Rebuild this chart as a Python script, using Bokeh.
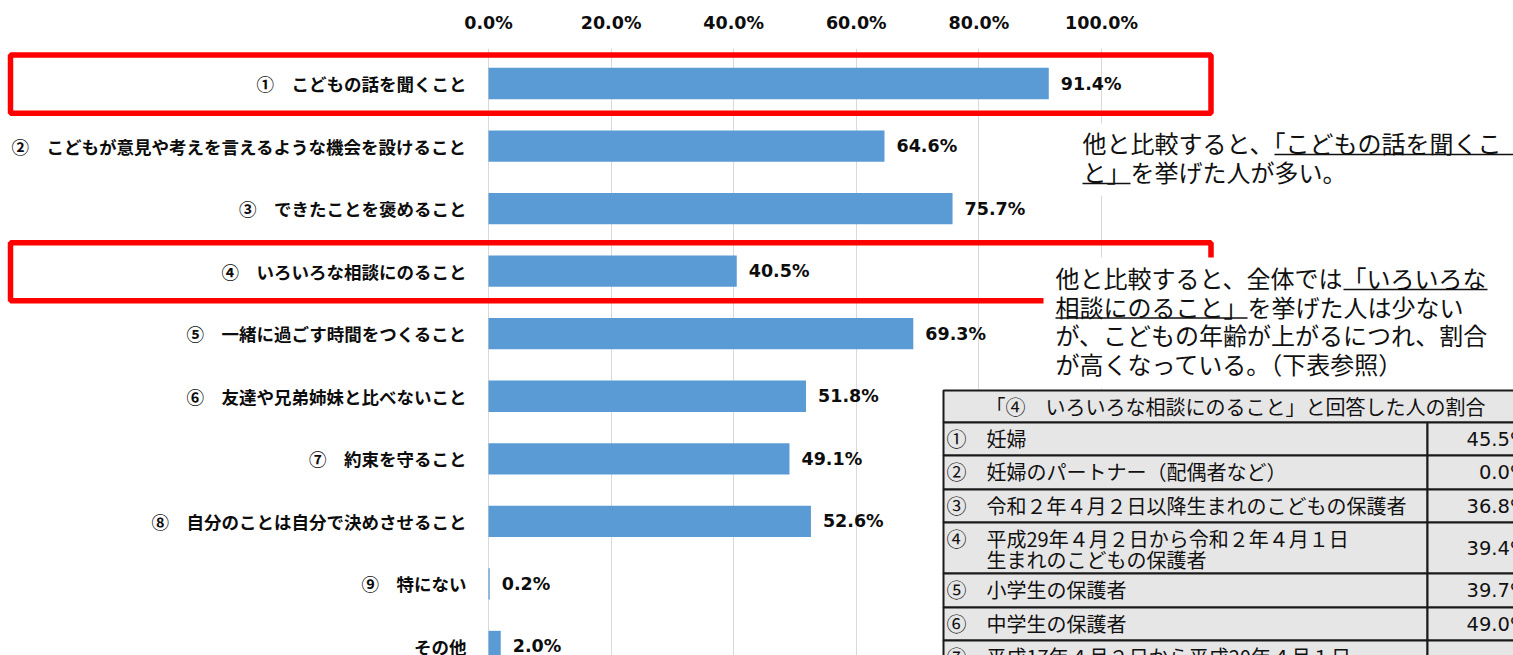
from bokeh.plotting import figure
from bokeh.models import Range1d, FixedTicker, PrintfTickFormatter
from bokeh.embed import file_html
from bokeh.resources import INLINE
from bokeh.core.properties import value

# ---------------- data ----------------
categories = [
    "①　こどもの話を聞くこと",
    "②　こどもが意見や考えを言えるような機会を設けること",
    "③　できたことを褒めること",
    "④　いろいろな相談にのること",
    "⑤　一緒に過ごす時間をつくること",
    "⑥　友達や兄弟姉妹と比べないこと",
    "⑦　約束を守ること",
    "⑧　自分のことは自分で決めさせること",
    "⑨　特にない",
    "その他",
]
values = [91.4, 64.6, 75.7, 40.5, 69.3, 51.8, 49.1, 52.6, 0.2, 2.0]
tick_values = [0, 20, 40, 60, 80, 100]
highlighted = [0, 3]

note1_lines = ["他と比較すると、「こどもの話を聞くこ", "と」を挙げた人が多い。"]
note1_underline = [(0, 8, 18), (1, 0, 2)]
note2_lines = [
    "他と比較すると、全体では「いろいろな",
    "相談にのること」を挙げた人は少ない",
    "が、こどもの年齢が上がるにつれ、割合",
    "が高くなっている。（下表参照）",
]
note2_underline = [(0, 12, 18), (1, 0, 8)]

table_title = "「④　いろいろな相談にのること」と回答した人の割合"
table_ids = ["①", "②", "③", "④", "⑤", "⑥", "⑦"]
table_labels = [
    "妊婦",
    "妊婦のパートナー（配偶者など）",
    "令和２年４月２日以降生まれのこどもの保護者",
    "平成29年４月２日から令和２年４月１日\n生まれのこどもの保護者",
    "小学生の保護者",
    "中学生の保護者",
    "平成17年４月２日から平成20年４月１日\n生まれのこどもの保護者",
]
table_values = [45.5, 0.0, 36.8, 39.4, 39.7, 49.0]

# ---------------- layout (pixels -> data) ----------------
W, H = 1513, 655
FRAME_TOP = 48
PX0, PXS = 488.0, 6.13     # pixel of 0 %, pixels per 1 %
PY0, PYS = 83.0, 62.55     # pixel centre of first bar, pixels per category


def dx(px):
    return (px - PX0) / PXS


def dy(py):
    return (py - PY0) / PYS


p = figure(width=W, height=H,
           x_range=Range1d(dx(0), dx(W)),
           y_range=Range1d(dy(H), dy(FRAME_TOP)),
           x_axis_location="above", y_axis_location=None,
           output_backend="svg", toolbar_location=None,
           min_border_left=0, min_border_right=0, min_border_bottom=0,
           min_border_top=FRAME_TOP)
p.outline_line_color = None
p.background_fill_color = "white"
p.border_fill_color = "white"

ticker = FixedTicker(ticks=tick_values)
p.xaxis.ticker = ticker
p.xgrid.ticker = ticker
p.xgrid.grid_line_color = "#D9D9D9"
p.xgrid.grid_line_width = 1
p.ygrid.visible = False
p.xaxis.formatter = PrintfTickFormatter(format="%.1f%%")
p.xaxis.axis_line_color = None
p.xaxis.major_tick_line_color = None
p.xaxis.minor_tick_line_color = None
p.xaxis.major_tick_out = 0
p.xaxis.major_tick_in = 0
p.xaxis.major_label_standoff = 16
p.xaxis.major_label_text_font = "DejaVu Sans"
p.xaxis.major_label_text_font_style = "bold"
p.xaxis.major_label_text_font_size = "17.5px"
p.xaxis.major_label_text_color = "#0D0D0D"

idx = list(range(len(categories)))

# bars
p.hbar(y=idx, left=0, right=values, height=0.5, fill_color="#5B9BD5", line_color=None)

# category labels
p.text(x=[0] * len(idx), y=idx, text=categories, x_offset=-22,
       text_align="right", text_baseline="middle",
       text_font=value("Noto Sans CJK JP"), text_font_style="bold",
       text_font_size="17.5px", text_color="#0D0D0D")

# value labels
p.text(x=values, y=idx, text=[f"{v:.1f}%" for v in values], x_offset=12,
       text_align="left", text_baseline="middle",
       text_font=value("DejaVu Sans"), text_font_style="bold",
       text_font_size="17.5px", text_color="#0D0D0D")

# red highlight frames
p.quad(left=[dx(10)] * len(highlighted), right=[dx(1210.5)] * len(highlighted),
       top=[i - 0.455 for i in highlighted], bottom=[i + 0.475 for i in highlighted],
       fill_color=None, line_color="#FF0000", line_width=5.5)

# annotation boxes (white background)
p.quad(left=[dx(1075), dx(1043)], right=[dx(1560), dx(1560)],
       top=[dy(123), dy(257)], bottom=[dy(195), dy(388)],
       fill_color="white", line_color=None)

NOTE_FS = 24


def draw_note(lines, underline, x0, y_first, step):
    ys = [dy(y_first + k * step) for k in range(len(lines))]
    p.text(x=[dx(x0)] * len(lines), y=ys, text=lines,
           text_align="left", text_baseline="middle",
           text_font=value("Noto Sans CJK JP"), text_font_size=f"{NOTE_FS}px",
           text_color="#111111")
    x0s, x1s, yss = [], [], []
    for (ln, a, b) in underline:
        x0s.append(dx(x0 + a * NOTE_FS))
        x1s.append(dx(x0 + b * NOTE_FS))
        yss.append(dy(y_first + ln * step + 12))
    p.segment(x0=x0s, y0=yss, x1=x1s, y1=yss, line_color="#111111", line_width=1.5)


draw_note(note1_lines, note1_underline, 1082, 142, 29)
draw_note(note2_lines, note2_underline, 1055, 277, 28.5)

# ---------------- table ----------------
T_LEFT, T_DIV, T_RIGHT = 943, 1427, 1560
row_edges = [390, 422, 455, 489, 522, 573, 607, 640, 691]
TFS = 20
LINE_STEP = 21
fill = "#E7E6E6"
edge = "#1A1A1A"

# header
p.quad(left=[dx(T_LEFT)], right=[dx(T_RIGHT)], top=[dy(row_edges[0])], bottom=[dy(row_edges[1])],
       fill_color=fill, line_color=edge, line_width=2)
p.text(x=[dx(1235)], y=[dy((row_edges[0] + row_edges[1]) / 2)], text=[table_title],
       text_align="center", text_baseline="middle",
       text_font=value("Noto Sans CJK JP"), text_font_size=f"{TFS}px", text_color="#111111")

n_rows = len(table_labels)
tops = [dy(row_edges[k + 1]) for k in range(n_rows)]
bots = [dy(row_edges[k + 2]) for k in range(n_rows)]
p.quad(left=[dx(T_LEFT)] * n_rows, right=[dx(T_DIV)] * n_rows, top=tops, bottom=bots,
       fill_color=fill, line_color=edge, line_width=2)
p.quad(left=[dx(T_DIV)] * n_rows, right=[dx(T_RIGHT)] * n_rows, top=tops, bottom=bots,
       fill_color=fill, line_color=edge, line_width=2)

# first-line centre of each row = row top + 16 px; anchor 6 px higher + offset (keeps anchor in frame)
SHIFT = 6
id_y = [dy(row_edges[k + 1] + 16 - SHIFT) for k in range(n_rows)]
p.text(x=[dx(946)] * n_rows, y=id_y, text=table_ids, y_offset=SHIFT,
       text_align="left", text_baseline="middle",
       text_font=value("Noto Sans CJK JP"), text_font_size=f"{TFS}px", text_color="#111111")

lx, ly, lt = [], [], []
for k, lab in enumerate(table_labels):
    for j, line in enumerate(lab.split("\n")):
        lx.append(dx(986))
        ly.append(dy(row_edges[k + 1] + 16 - SHIFT + j * LINE_STEP))
        lt.append(line)
p.text(x=lx, y=ly, text=lt, y_offset=SHIFT,
       text_align="left", text_baseline="middle",
       text_font=value("Noto Sans CJK JP"), text_font_size=f"{TFS}px", text_color="#111111")

nv = len(table_values)
p.text(x=[dx(1500)] * nv, y=[dy((row_edges[k + 1] + row_edges[k + 2]) / 2) for k in range(nv)],
       text=[f"{v:.1f}%" for v in table_values], x_offset=28,
       text_align="right", text_baseline="middle",
       text_font=value("DejaVu Sans"), text_font_size="19.5px", text_color="#111111")

open("out.html", "w").write(file_html(p, INLINE))
